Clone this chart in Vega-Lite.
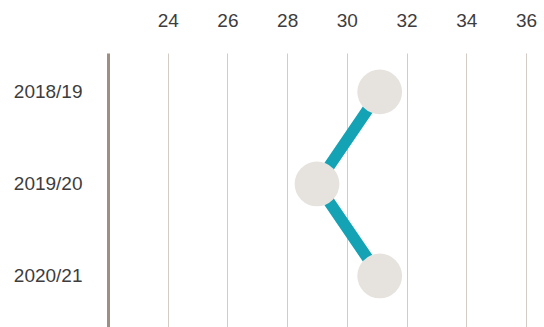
{
  "$schema": "https://vega.github.io/schema/vega-lite/v6.json",
  "autosize": {"type": "none"},
  "padding": {"left": 108, "top": 53, "right": 18, "bottom": 0},
  "width": 418,
  "height": 274,
  "background": "white",
  "config": {
    "view": {"stroke": null},
    "axis": {"labelFont": "Liberation Sans", "labelFontSize": 19, "labelColor": "#3d3d3d"}
  },
  "data": {
    "values": [
      {"season": "2018/19", "value": 31.1},
      {"season": "2019/20", "value": 29.0},
      {"season": "2020/21", "value": 31.1}
    ]
  },
  "encoding": {
    "x": {
      "field": "value",
      "type": "quantitative",
      "scale": {"domain": [22, 36], "nice": false, "zero": false},
      "axis": {
        "orient": "top",
        "title": null,
        "values": [24, 26, 28, 30, 32, 34, 36],
        "ticks": false,
        "domain": false,
        "labelPadding": 23,
        "grid": true,
        "gridColor": "#d3cbc4",
        "gridWidth": 1,
        "gridOpacity": 1,
        "labelFlush": false
      }
    },
    "y": {
      "field": "season",
      "type": "ordinal",
      "scale": {"type": "point", "padding": 0.489, "align": 0.433},
      "axis": {
        "title": null,
        "ticks": false,
        "domain": true,
        "domainColor": "#9e8f84",
        "domainWidth": 3,
        "labelPadding": 26,
        "grid": false
      }
    }
  },
  "layer": [
    {"mark": {"type": "line", "color": "#14a3b5", "strokeWidth": 11.5}},
    {"mark": {"type": "point", "filled": true, "size": 2000, "color": "#e6e3de", "opacity": 1}}
  ]
}
